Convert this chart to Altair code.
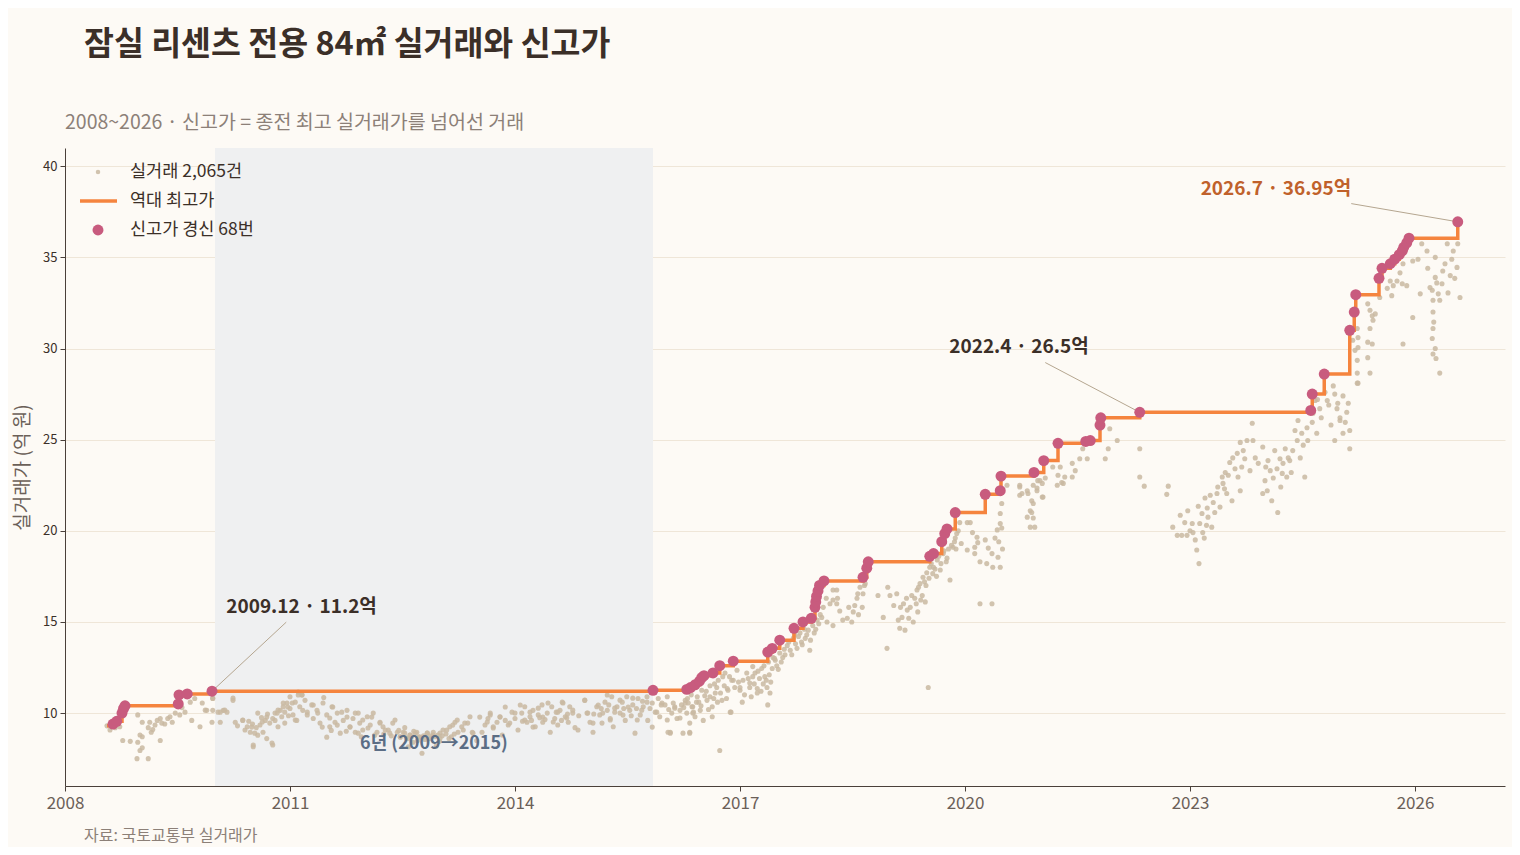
import altair as alt
import pandas as pd

FONT = "Noto Sans CJK KR"

# ---- data (year as decimal, price in 억 원) ----
deals_2008_2010 = [
    (2008.56, 9.30), (2008.60, 9.07), (2008.67, 9.20), (2008.73, 9.25), (2008.77, 8.50), (2008.87, 8.45),
    (2008.97, 9.90), (2009.03, 9.50), (2009.00, 8.80), (2008.97, 8.40), (2009.03, 8.10), (2009.00, 7.95),
    (2009.03, 8.70), (2008.96, 7.50), (2009.11, 7.50), (2009.11, 9.20), (2009.13, 9.50), (2009.20, 9.35),
    (2009.23, 9.60), (2009.27, 9.70), (2009.27, 8.50), (2009.29, 9.45), (2009.37, 9.70), (2009.40, 9.80),
    (2009.43, 9.50), (2009.47, 10.00), (2009.53, 9.90), (2009.56, 10.30), (2009.60, 10.05), (2009.67, 10.60),
    (2009.69, 9.60), (2009.73, 10.80), (2009.80, 9.25), (2009.83, 10.55), (2009.89, 10.15), (2009.97, 10.80),
    (2009.97, 10.15), (2009.96, 9.50), (2010.04, 10.05), (2010.07, 9.50), (2010.11, 10.15), (2010.16, 10.05),
    (2010.24, 10.70), (2010.27, 9.50), (2010.37, 9.60), (2010.40, 9.07), (2010.43, 9.25), (2010.47, 8.95),
    (2010.51, 8.15), (2010.53, 8.90), (2010.57, 10.00), (2010.60, 9.35), (2010.64, 8.95), (2010.67, 9.60),
    (2010.69, 8.60), (2010.73, 9.45), (2010.77, 9.70), (2010.77, 8.25), (2010.83, 10.00), (2010.84, 9.25),
    (2010.87, 10.15), (2010.91, 10.35), (2010.93, 9.45), (2010.96, 10.55), (2009.15, 8.95), (2009.17, 9.10),
    (2009.33, 9.40), (2010.30, 9.30), (2010.45, 9.55), (2010.50, 9.40), (2010.55, 9.20), (2010.62, 9.75),
    (2010.70, 9.95), (2010.80, 9.60), (2010.89, 9.80), (2010.93, 10.05), (2010.98, 9.85),
    (2009.87, 10.16), (2009.97, 10.82), (2010.07, 10.05), (2010.13, 10.16), (2010.24, 10.82), (2010.37, 9.62),
    (2010.49, 9.23), (2010.51, 8.25), (2010.57, 8.79), (2010.63, 9.51), (2010.69, 9.78), (2010.76, 8.36),
    (2010.80, 10.00), (2010.84, 10.16), (2010.91, 10.55), (2010.97, 10.33),
]

deals_2011_2013 = [
    (2011.00, 10.25), (2011.00, 10.90), (2011.04, 9.90), (2011.07, 10.60), (2011.09, 9.60), (2011.11, 11.15),
    (2011.13, 10.35), (2011.16, 11.00), (2011.17, 10.15), (2011.23, 9.90), (2011.29, 10.45), (2011.31, 9.70),
    (2011.36, 10.15), (2011.40, 9.45), (2011.44, 10.55), (2011.49, 9.90), (2011.53, 9.25), (2011.56, 10.35),
    (2011.60, 9.50), (2011.63, 10.00), (2011.67, 8.90), (2011.71, 9.60), (2011.76, 10.15), (2011.80, 9.25),
    (2011.84, 9.70), (2011.87, 8.95), (2011.91, 10.00), (2011.93, 9.45), (2011.97, 9.07), (2012.03, 9.80),
    (2012.07, 9.35), (2012.11, 10.00), (2012.16, 8.95), (2012.20, 9.50), (2012.24, 9.25), (2012.31, 9.07),
    (2012.37, 9.45), (2012.43, 8.95), (2012.47, 8.70), (2012.53, 9.20), (2012.60, 8.80), (2012.64, 8.40),
    (2012.51, 8.95), (2012.69, 8.95), (2012.76, 7.80), (2012.83, 8.90), (2012.91, 8.95), (2012.97, 8.80),
    (2013.04, 9.07), (2013.13, 9.25), (2013.20, 9.50), (2013.24, 8.95), (2013.29, 9.25), (2013.33, 9.45),
    (2013.40, 9.80), (2013.43, 8.95), (2013.49, 8.50), (2013.56, 8.95), (2013.60, 9.35), (2013.64, 9.70),
    (2013.67, 9.90), (2013.71, 9.25), (2013.76, 9.50), (2013.80, 9.80), (2013.83, 8.80), (2013.87, 9.60),
    (2013.91, 9.35), (2013.96, 10.05), (2012.25, 8.85), (2012.35, 8.75), (2012.45, 9.05), (2012.55, 8.65),
    (2012.65, 9.00), (2012.72, 8.70), (2012.80, 8.55), (2012.88, 8.75), (2013.00, 8.60), (2013.08, 8.85),
    (2013.15, 8.70), (2012.58, 8.15), (2012.95, 8.20), (2011.20, 10.70), (2011.45, 10.85), (2011.55, 9.05),
    (2011.75, 9.00), (2011.95, 8.70),
    (2011.03, 10.55), (2011.07, 9.62), (2011.11, 10.99), (2011.16, 10.99), (2011.23, 10.05), (2011.31, 10.44),
    (2011.37, 10.00), (2011.43, 9.23), (2011.49, 8.68), (2011.53, 9.73), (2011.57, 10.33), (2011.63, 9.34),
    (2011.69, 10.05), (2011.76, 9.78), (2011.80, 9.23), (2011.87, 10.00), (2011.91, 8.90), (2011.97, 9.62),
    (2012.04, 9.18), (2012.09, 9.78), (2012.13, 8.79), (2012.20, 9.45), (2012.27, 9.07), (2012.33, 8.90),
    (2012.40, 9.62), (2012.47, 8.68), (2012.53, 8.90), (2012.60, 8.79), (2012.67, 8.90), (2012.73, 8.68),
    (2012.83, 8.90), (2012.91, 8.79), (2013.00, 8.90), (2013.09, 9.07), (2013.17, 9.34), (2013.23, 9.62),
    (2013.31, 9.07), (2013.37, 9.45), (2013.44, 8.90), (2013.53, 9.78), (2013.63, 9.51), (2013.67, 10.00),
    (2013.71, 9.18), (2013.80, 9.78), (2013.87, 10.33), (2013.93, 9.45), (2012.57, 8.60), (2012.62, 8.70),
    (2012.78, 8.75), (2012.86, 8.60), (2012.93, 8.70), (2013.03, 8.75), (2013.12, 8.60), (2013.19, 8.85),
    (2012.70, 8.50), (2012.99, 8.45),
]

deals_2014_2016 = [
    (2014.00, 9.70), (2014.04, 9.07), (2014.09, 10.00), (2014.13, 10.35), (2014.16, 9.50), (2014.20, 9.80),
    (2014.24, 10.15), (2014.27, 9.25), (2014.31, 9.90), (2014.36, 10.45), (2014.37, 9.50), (2014.43, 10.00),
    (2014.47, 8.95), (2014.49, 10.35), (2014.53, 9.70), (2014.57, 9.35), (2014.60, 10.15), (2014.64, 10.55),
    (2014.67, 9.80), (2014.71, 9.50), (2014.73, 10.35), (2014.77, 10.00), (2014.80, 9.20), (2014.93, 10.70),
    (2014.96, 10.00), (2015.00, 9.50), (2015.04, 8.95), (2015.09, 10.35), (2015.13, 9.90), (2015.16, 9.45),
    (2015.20, 10.60), (2015.23, 10.15), (2015.27, 9.70), (2015.29, 10.90), (2015.31, 9.25), (2015.36, 10.35),
    (2015.40, 10.00), (2015.43, 10.60), (2015.47, 9.60), (2015.49, 10.90), (2015.53, 10.15), (2015.57, 10.45),
    (2015.60, 8.90), (2015.64, 10.80), (2015.67, 9.90), (2015.71, 10.35), (2015.76, 10.90), (2015.77, 9.60),
    (2015.83, 10.55), (2015.87, 10.05), (2015.91, 10.80), (2015.93, 9.80), (2016.00, 10.45), (2016.03, 10.90),
    (2016.04, 8.95), (2016.09, 10.00), (2016.11, 10.55), (2016.16, 9.70), (2016.20, 10.15), (2016.24, 8.90),
    (2016.27, 10.70), (2016.29, 10.00), (2016.33, 9.45), (2016.36, 10.35), (2016.40, 9.80), (2016.43, 10.90),
    (2016.47, 10.15), (2016.49, 11.25), (2016.51, 9.60), (2016.56, 10.70), (2016.60, 11.50), (2016.63, 10.35),
    (2016.67, 11.10), (2016.71, 11.80), (2016.73, 7.95), (2016.76, 10.70), (2016.80, 12.20), (2016.83, 11.35),
    (2016.87, 10.05), (2016.91, 11.80), (2016.96, 12.35), (2014.10, 9.55), (2014.22, 9.60), (2014.33, 9.75),
    (2014.40, 9.65), (2014.55, 10.05), (2014.62, 9.60), (2014.70, 9.95), (2014.85, 9.85), (2015.05, 9.95),
    (2015.15, 10.25), (2015.25, 10.45), (2015.33, 10.05), (2015.45, 10.25), (2015.55, 9.85), (2015.62, 10.25),
    (2015.70, 10.65), (2015.80, 10.25), (2015.95, 10.45), (2016.05, 10.20), (2016.13, 10.35), (2016.22, 10.45),
    (2016.31, 10.55), (2016.38, 10.05), (2016.45, 10.60), (2016.53, 10.95), (2016.58, 10.20), (2016.65, 10.80),
    (2016.69, 11.40), (2016.77, 12.00), (2016.84, 11.25), (2016.89, 11.80), (2016.07, 8.95), (2016.33, 8.95),
    (2016.88, 10.05), (2016.37, 10.35), (2016.63, 9.80),
    (2014.00, 10.00), (2014.07, 10.44), (2014.13, 9.62), (2014.20, 10.05), (2014.24, 9.23), (2014.31, 10.27),
    (2014.37, 9.78), (2014.44, 10.55), (2014.51, 9.51), (2014.57, 10.05), (2014.63, 10.60), (2014.69, 9.73),
    (2014.77, 10.16), (2014.84, 9.07), (2014.93, 10.71), (2014.97, 10.00), (2015.04, 9.45), (2015.11, 10.44),
    (2015.17, 10.00), (2015.23, 10.99), (2015.27, 9.62), (2015.33, 10.27), (2015.40, 10.71), (2015.44, 9.89),
    (2015.51, 10.33), (2015.57, 10.82), (2015.63, 9.62), (2015.69, 10.16), (2015.76, 10.60), (2015.83, 9.23),
    (2015.89, 10.05), (2015.96, 10.55), (2016.03, 9.62), (2016.07, 8.90), (2016.13, 10.27), (2016.20, 9.73),
    (2016.27, 10.55), (2016.33, 8.90), (2016.37, 10.00), (2016.25, 10.30), (2016.30, 10.80), (2016.35, 11.00),
    (2016.42, 10.60), (2016.48, 10.40), (2016.55, 11.20), (2016.60, 10.90), (2016.66, 11.60), (2016.70, 10.60),
    (2016.74, 11.10), (2016.79, 11.50), (2016.82, 10.80), (2016.86, 12.00), (2016.93, 11.40), (2016.98, 11.70),
]

deals_2017_2019 = [
    (2017.00, 11.25), (2017.04, 11.80), (2017.09, 12.20), (2017.13, 11.40), (2017.17, 12.00), (2017.23, 11.10),
    (2017.00, 11.40), (2017.03, 10.60), (2017.13, 11.65), (2017.17, 12.55), (2017.23, 11.35), (2017.29, 12.45),
    (2017.33, 12.00), (2017.36, 11.40), (2017.37, 10.45), (2017.40, 11.10), (2017.43, 12.45), (2017.44, 13.05),
    (2017.49, 12.60), (2017.53, 13.30), (2017.57, 13.05), (2017.63, 13.70), (2017.67, 13.45), (2017.71, 14.10),
    (2017.76, 13.55), (2017.80, 14.40), (2017.87, 14.10), (2017.91, 14.55), (2017.93, 13.45), (2017.97, 14.80),
    (2018.03, 15.10), (2018.09, 15.25), (2018.11, 15.80), (2018.24, 16.75), (2018.29, 16.75), (2018.24, 16.20),
    (2018.29, 16.00), (2018.24, 14.80), (2018.37, 15.10), (2018.43, 15.20), (2018.49, 15.00), (2018.51, 15.55),
    (2018.53, 15.90), (2018.56, 16.30), (2018.57, 16.55), (2018.60, 16.90), (2018.63, 15.80), (2018.67, 17.10),
    (2018.64, 16.55), (2018.84, 16.45), (2018.91, 15.25), (2018.96, 13.55), (2018.97, 16.90), (2019.00, 16.45),
    (2019.09, 16.55), (2019.11, 15.10), (2019.13, 14.65), (2019.16, 15.25), (2019.20, 14.55), (2019.23, 15.65),
    (2019.27, 15.80), (2019.29, 16.45), (2019.31, 15.00), (2019.33, 16.30), (2019.36, 16.75), (2019.37, 15.55),
    (2019.40, 17.10), (2019.43, 16.45), (2019.44, 17.45), (2019.47, 16.10), (2019.49, 17.70), (2019.51, 11.40),
    (2019.53, 18.00), (2019.57, 17.65), (2019.63, 18.40), (2019.67, 17.85), (2019.71, 18.75), (2019.80, 17.30),
    (2019.84, 19.10), (2017.20, 12.20), (2017.26, 11.90), (2017.31, 11.60), (2017.39, 12.10), (2017.47, 12.90),
    (2017.51, 12.40), (2017.60, 13.20), (2017.65, 13.90), (2017.74, 13.80), (2017.78, 14.20), (2017.83, 13.75),
    (2017.89, 14.30), (2017.99, 14.40), (2018.05, 14.90), (2018.15, 16.30), (2018.30, 16.30), (2018.45, 15.80),
    (2018.58, 15.40), (2018.66, 17.00), (2019.05, 15.90), (2019.18, 16.00), (2019.25, 15.20), (2019.38, 16.90),
    (2019.46, 17.20), (2019.55, 18.20), (2019.60, 17.90), (2019.65, 18.60), (2019.75, 18.30), (2019.78, 19.00),
    (2019.86, 19.40), (2018.16, 15.00), (2018.20, 16.00), (2018.33, 15.60),
    (2017.06, 11.00), (2017.11, 11.90), (2017.15, 10.90), (2017.19, 11.60), (2017.24, 12.30), (2017.28, 11.20),
    (2017.32, 12.60), (2017.35, 11.80), (2017.38, 12.80), (2017.41, 11.70), (2017.46, 13.00), (2017.55, 12.80),
    (2017.59, 13.50), (2017.69, 13.20), (2017.73, 14.30), (2017.82, 13.90), (2017.86, 14.60), (2017.94, 14.00),
    (2018.01, 14.60), (2018.07, 15.40), (2019.41, 16.20), (2019.48, 17.00), (2019.52, 17.40), (2019.58, 18.00),
    (2019.62, 17.50), (2019.68, 18.20), (2019.72, 18.90), (2019.76, 18.50), (2019.82, 19.20), (2019.88, 19.00),
    (2019.91, 20.00), (2019.35, 16.00), (2019.22, 16.30), (2019.14, 15.80),
]

deals_2020_2022 = [
    (2019.87, 19.60), (2019.89, 19.85), (2019.93, 20.45), (2020.03, 20.45), (2020.03, 18.95), (2020.07, 20.45),
    (2020.16, 19.65), (2020.13, 19.10), (2020.13, 18.75), (2020.17, 19.35), (2020.20, 18.30), (2020.27, 19.50),
    (2020.29, 18.20), (2020.31, 19.05), (2020.36, 18.75), (2020.37, 18.00), (2020.40, 19.60), (2020.43, 20.05),
    (2020.44, 18.55), (2020.47, 20.95), (2020.47, 20.40), (2020.47, 18.00), (2020.49, 20.15), (2020.49, 21.50),
    (2020.20, 16.00), (2020.36, 16.00), (2020.56, 22.50), (2020.73, 22.50), (2020.76, 22.05), (2020.83, 20.75),
    (2020.84, 22.05), (2020.87, 21.10), (2020.89, 21.65), (2020.91, 22.50), (2020.91, 20.70), (2020.93, 20.20),
    (2020.96, 22.35), (2020.97, 22.75), (2021.03, 22.60), (2021.04, 21.85), (2021.07, 22.90), (2021.17, 23.50),
    (2021.23, 22.50), (2021.24, 23.05), (2021.27, 23.50), (2021.29, 22.65), (2021.33, 22.95), (2021.43, 23.70),
    (2021.47, 23.30), (2021.53, 23.95), (2021.63, 23.95), (2021.87, 23.95), (2021.91, 24.50), (2022.03, 24.95),
    (2021.93, 25.60), (2020.73, 22.40), (2020.73, 21.95), (2020.83, 22.20), (2020.87, 20.20), (2020.89, 21.00),
    (2020.91, 21.50), (2020.96, 22.20), (2021.00, 22.75), (2021.03, 21.85), (2021.31, 22.60), (2021.43, 22.95),
    (2021.57, 24.50), (2022.33, 24.50), (2022.33, 22.95), (2022.39, 22.45), (2022.69, 22.00), (2022.71, 22.45),
    (2020.50, 19.00), (2020.45, 19.40), (2020.10, 19.90), (2019.95, 19.30),
]

deals_2023_2024 = [
    (2022.77, 20.20), (2022.83, 19.75), (2022.87, 20.85), (2022.89, 19.75), (2022.93, 20.45), (2022.96, 19.75),
    (2022.97, 21.10), (2023.03, 20.40), (2023.04, 19.90), (2023.07, 19.50), (2023.09, 18.95), (2023.11, 21.35),
    (2023.12, 18.20), (2023.13, 20.40), (2023.16, 20.95), (2023.17, 19.90), (2023.19, 19.60), (2023.20, 21.80),
    (2023.23, 21.25), (2023.24, 20.75), (2023.27, 21.95), (2023.29, 20.20), (2023.31, 21.55), (2023.36, 22.05),
    (2023.37, 22.40), (2023.40, 21.30), (2023.43, 22.95), (2023.44, 22.60), (2023.47, 23.20), (2023.49, 22.05),
    (2023.51, 23.05), (2023.53, 23.75), (2023.56, 21.65), (2023.57, 24.00), (2023.60, 23.40), (2023.63, 24.25),
    (2023.64, 22.95), (2023.67, 24.85), (2023.69, 23.50), (2023.71, 24.40), (2023.73, 23.95), (2023.76, 24.95),
    (2023.67, 22.20), (2023.83, 25.90), (2023.84, 24.95), (2023.87, 24.00), (2023.91, 23.70), (2023.97, 24.60),
    (2024.00, 22.75), (2023.97, 22.05), (2024.03, 22.20), (2024.04, 23.85), (2024.07, 23.30), (2024.09, 21.65),
    (2024.11, 22.90), (2024.13, 24.40), (2024.16, 23.40), (2024.17, 21.00), (2024.20, 23.95), (2024.23, 23.15),
    (2024.24, 23.70), (2024.27, 24.50), (2024.29, 22.95), (2024.31, 24.00), (2024.33, 23.85), (2024.37, 24.40),
    (2024.40, 25.50), (2024.43, 24.95), (2024.44, 26.05), (2024.47, 24.00), (2024.49, 25.35), (2024.51, 24.70),
    (2024.53, 22.95), (2024.56, 25.65), (2024.57, 24.95), (2024.63, 25.95), (2024.64, 26.45), (2024.67, 27.15),
    (2024.69, 25.35), (2024.73, 26.70), (2024.83, 27.15), (2024.91, 27.95), (2024.93, 24.95), (2024.96, 26.70),
    (2024.97, 27.00), (2024.70, 27.20), (2024.75, 26.20), (2024.80, 27.60), (2024.85, 26.90), (2024.88, 25.80),
    (2023.00, 20.00), (2023.22, 20.30), (2023.33, 21.00), (2023.46, 22.30), (2023.80, 23.30), (2024.01, 23.50),
    (2024.21, 22.40), (2024.35, 23.20),
]

deals_2025_2026 = [
    (2025.00, 26.05), (2025.04, 27.40), (2025.07, 25.95), (2025.09, 26.50), (2025.11, 27.00), (2025.13, 25.50),
    (2025.13, 24.50), (2025.23, 28.10), (2024.93, 27.50), (2025.00, 26.20), (2025.04, 25.35), (2025.17, 30.45),
    (2025.20, 29.90), (2025.23, 29.35), (2025.23, 28.65), (2025.24, 28.10), (2025.23, 31.10), (2025.24, 30.60),
    (2025.24, 30.05), (2025.37, 32.45), (2025.40, 32.10), (2025.43, 31.80), (2025.44, 31.55), (2025.40, 31.10),
    (2025.37, 30.35), (2025.43, 30.25), (2025.37, 29.50), (2025.40, 28.65), (2025.47, 31.90), (2025.53, 32.80),
    (2025.63, 33.30), (2025.67, 33.70), (2025.69, 32.90), (2025.71, 33.45), (2025.76, 33.70), (2025.80, 34.15),
    (2025.84, 34.65), (2025.83, 33.55), (2025.89, 33.45), (2025.84, 30.25), (2025.97, 34.80), (2025.97, 31.70),
    (2026.04, 34.90), (2026.07, 33.00), (2026.09, 35.75), (2026.16, 35.35), (2026.17, 34.40), (2026.20, 33.35),
    (2026.23, 33.20), (2026.24, 32.65), (2026.24, 32.00), (2026.25, 31.45), (2026.24, 31.10), (2026.23, 30.55),
    (2026.27, 30.00), (2026.24, 29.70), (2026.28, 29.45), (2026.33, 28.65), (2026.27, 35.00), (2026.27, 33.90),
    (2026.29, 33.60), (2026.31, 33.00), (2026.33, 32.65), (2026.36, 33.55), (2026.37, 34.25), (2026.40, 34.65),
    (2026.43, 35.75), (2026.44, 33.05), (2026.47, 34.00), (2026.49, 34.90), (2026.51, 35.35), (2026.53, 33.85),
    (2026.56, 34.45), (2026.57, 35.75), (2026.60, 32.80),
]

# 신고가 경신 (68번)
record_years = [
    2008.64, 2008.69, 2008.76, 2008.78, 2008.80, 2009.51, 2009.52, 2009.63, 2009.96,
    2015.84, 2016.29, 2016.34, 2016.40, 2016.46, 2016.49, 2016.52, 2016.64, 2016.73, 2016.91,
    2017.37, 2017.43, 2017.53, 2017.72, 2017.84, 2017.95, 2018.00, 2018.01, 2018.02, 2018.04,
    2018.06, 2018.12, 2018.64, 2018.69, 2018.71, 2019.53, 2019.58, 2019.69, 2019.73, 2019.76,
    2019.87, 2020.27, 2020.47, 2020.48, 2020.92, 2021.05, 2021.24, 2021.61, 2021.67, 2021.80,
    2021.81, 2022.33, 2024.61, 2024.63, 2024.79, 2025.13, 2025.19, 2025.21, 2025.52, 2025.56,
    2025.67, 2025.73, 2025.79, 2025.83, 2025.85, 2025.89, 2025.92, 2026.57,
]
record_prices = [
    9.40, 9.55, 10.00, 10.25, 10.40, 10.50, 11.00, 11.05, 11.20,
    11.25, 11.30, 11.40, 11.55, 11.75, 11.95, 12.05, 12.20, 12.60, 12.85,
    13.35, 13.55, 14.00, 14.65, 15.00, 15.20, 15.80, 16.10, 16.40, 16.70,
    17.00, 17.25, 17.45, 17.95, 18.30, 18.60, 18.75, 19.40, 19.85, 20.10,
    21.00, 22.00, 22.20, 23.00, 23.20, 23.85, 24.80, 24.90, 24.95, 25.80,
    26.20, 26.50, 26.60, 27.50, 28.60, 31.00, 32.00, 32.95, 33.85, 34.40,
    34.65, 34.90, 35.15, 35.35, 35.55, 35.80, 36.05, 36.95,
]
first_deal = (2008.56, 9.30)

# 6년 정체 구간
flat_start, flat_end = 2010.0, 2015.84
flat_label = "6년 (2009→2015)"

# callouts
ann_labels = ["2009.12 · 11.2억", "2022.4 · 26.5억", "2026.7 · 36.95억"]
ann_year = [2009.96, 2022.33, 2026.57]
ann_price = [11.2, 26.5, 36.95]
ann_text_year = [2010.15, 2019.79, 2025.15]
ann_text_price = [15.8, 30.1, 38.77]
ann_lead_year = [2010.95, 2021.07, 2025.15]
ann_lead_price = [14.99, 29.23, 37.95]

legend_labels = ["실거래 2,065건", "역대 최고가", "신고가 경신 68번"]

# ---- frames ----
all_deals = (deals_2008_2010 + deals_2011_2013 + deals_2014_2016 + deals_2017_2019
             + deals_2020_2022 + deals_2023_2024 + deals_2025_2026)
deals = pd.DataFrame(all_deals, columns=["year", "price"])
records = pd.DataFrame({"year": record_years, "price": record_prices})
high_line = pd.concat([pd.DataFrame([first_deal], columns=["year", "price"]), records], ignore_index=True)
high_line["order"] = range(len(high_line))
flat = pd.DataFrame({"start": [flat_start], "end": [flat_end],
                     "mid": [(flat_start + flat_end) / 2], "price": [8.3], "label": [flat_label]})
ann = pd.DataFrame({"label": ann_labels, "year": ann_year, "price": ann_price,
                    "ty": ann_text_year, "tp": ann_text_price,
                    "ly": ann_lead_year, "lp": ann_lead_price})

W, H = 1440, 638
INK = "#3b2f28"
TAN = "#c9b9a1"
ORANGE = "#f5843e"
PINK = "#c85b7e"

x_scale = alt.Scale(domain=[2008, 2027.2], nice=False, zero=False)
y_scale = alt.Scale(domain=[6, 41], nice=False, zero=False)
x_axis = alt.Axis(values=[2008, 2011, 2014, 2017, 2020, 2023, 2026], format="d", title=None,
                  grid=False, domainColor="#4a403a", tickColor="#4a403a", tickSize=5,
                  labelFontSize=17, labelColor="#6b6058", labelPadding=4, labelFlush=False)
y_axis = alt.Axis(values=[10, 15, 20, 25, 30, 35, 40], title="실거래가 (억 원)", grid=True,
                  gridColor="#efe6d8", domainColor="#4a403a", tickColor="#4a403a", tickSize=5,
                  labelFontSize=13, labelColor=INK, labelPadding=3,
                  titleFontSize=19, titleColor="#6b6058", titleFontWeight="normal", titlePadding=10)

X = alt.X("year:Q", scale=x_scale, axis=x_axis)
Y = alt.Y("price:Q", scale=y_scale, axis=y_axis)

shade = alt.Chart(flat).mark_rect(color="#eff0f1").encode(
    x=alt.X("start:Q", scale=x_scale, axis=x_axis), x2="end:Q",
    y=alt.value(0), y2=alt.value(H))

flat_text = alt.Chart(flat).mark_text(fontSize=18, fontWeight="bold", color="#5b6d85").encode(
    x=alt.X("mid:Q", scale=x_scale), y=alt.Y("price:Q", scale=y_scale), text="label:N")

dots = alt.Chart(deals).mark_circle(size=26, color=TAN, opacity=0.85).encode(x=X, y=Y)

line = alt.Chart(high_line).mark_line(color=ORANGE, strokeWidth=3.5, interpolate="step-after").encode(
    x=X, y=Y, order="order:Q")

leaders = alt.Chart(ann).mark_rule(color="#b5a690", strokeWidth=1).encode(
    x=alt.X("ly:Q", scale=x_scale), y=alt.Y("lp:Q", scale=y_scale), x2="year:Q", y2="price:Q")

rec = alt.Chart(records).mark_circle(size=120, color=PINK, opacity=1).encode(x=X, y=Y)

ann_left = alt.Chart(ann.iloc[:2]).mark_text(align="left", fontSize=19, fontWeight="bold", color=INK).encode(
    x=alt.X("ty:Q", scale=x_scale), y=alt.Y("tp:Q", scale=y_scale), text="label:N")
ann_right = alt.Chart(ann.iloc[2:]).mark_text(align="right", fontSize=19, fontWeight="bold", color="#c0612b").encode(
    x=alt.X("ty:Q", scale=x_scale), y=alt.Y("tp:Q", scale=y_scale), text="label:N")

# legend, drawn by hand in the top-left corner
leg = pd.DataFrame({"label": legend_labels})
leg_dot = alt.Chart(leg.iloc[:1]).mark_circle(size=20, color=TAN, opacity=0.85).encode(
    x=alt.value(33), y=alt.value(24))
leg_line = alt.Chart(leg.iloc[1:2]).mark_rule(color=ORANGE, strokeWidth=3.5).encode(
    x=alt.value(15), x2=alt.value(52), y=alt.value(53))
leg_rec = alt.Chart(leg.iloc[2:]).mark_circle(size=120, color=PINK, opacity=1).encode(
    x=alt.value(33), y=alt.value(82))
leg_text = [
    alt.Chart(leg.iloc[i:i + 1]).mark_text(align="left", baseline="middle", fontSize=17.5, color=INK).encode(
        x=alt.value(65), y=alt.value(24 + 29 * i), text="label:N")
    for i in range(3)
]

heads = pd.DataFrame({"t": ["잠실 리센츠 전용 84㎡ 실거래와 신고가",
                            "2008~2026 · 신고가 = 종전 최고 실거래가를 넘어선 거래",
                            "자료: 국토교통부 실거래가"]})
title = alt.Chart(heads.iloc[:1]).mark_text(align="left", baseline="middle", fontSize=32.5,
                                            fontWeight="bold", color=INK).encode(
    x=alt.value(19), y=alt.value(-103), text="t:N")
subtitle = alt.Chart(heads.iloc[1:2]).mark_text(align="left", baseline="middle", fontSize=19.5,
                                                color="#8c8078").encode(
    x=alt.value(0), y=alt.value(-25), text="t:N")
source = alt.Chart(heads.iloc[2:]).mark_text(align="left", baseline="middle", fontSize=16,
                                             color="#8c8078").encode(
    x=alt.value(19), y=alt.value(H + 50), text="t:N")

# the 6-year label sits on top of the dots
chart = alt.layer(
    shade, dots, flat_text, line, leaders, rec, ann_left, ann_right,
    leg_dot, leg_line, leg_rec, *leg_text, title, subtitle, source
).properties(
    width=W, height=H,
    autosize=alt.AutoSizeParams(type="none"),
    padding={"left": 57, "top": 140, "right": 7, "bottom": 61},
    background="#fdfaf5",
).configure(font=FONT).configure_view(stroke=None)

chart.save("out.html", embed_options={"renderer": "svg", "actions": False})
